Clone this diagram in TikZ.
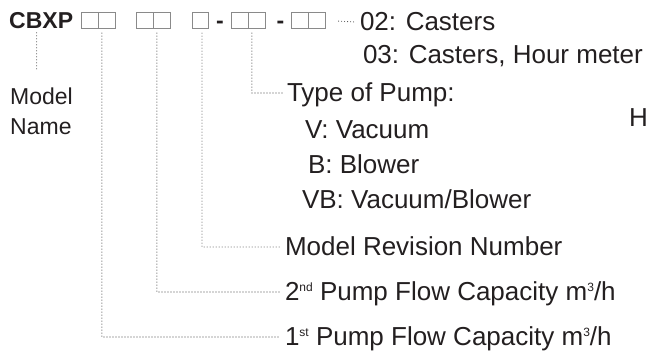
\documentclass[tikz,border=0pt]{standalone}
\usepackage{fontspec}
\setmainfont{Liberation Sans}
\definecolor{ink}{HTML}{231F20}
\definecolor{boxgray}{HTML}{8A8A8A}
\definecolor{dotgray}{HTML}{4A4A4A}
\newcommand{\upsc}[1]{\raisebox{9pt}{\fontsize{12}{12}\selectfont #1}}
\begin{document}
\begin{tikzpicture}[x=1pt, y=-1pt,
    every node/.style={text=ink},
    cell/.style={draw=boxgray, line width=0.8pt, minimum size=16.5pt, inner sep=0pt},
    hyph/.style={font=\bfseries\fontsize{23}{27}\selectfont, inner sep=0pt, anchor=base},
    lbl/.style={font=\fontsize{26}{30}\selectfont, inner sep=0pt, outer xsep=5pt, text height=18pt, text depth=0pt, anchor=west},
    leader/.style={dotgray, line width=1.1pt, line cap=round, dash pattern=on 0pt off 3pt}]
    \useasboundingbox (0,0) rectangle (649,358);

    % code string
    \node[font=\bfseries\fontsize{23}{27}\selectfont, inner sep=0pt, anchor=west] (cbxp) at (9,20.5) {CBXP};
    \node[cell] (p1a) at (90,20.5) {};
    \node[cell] (p1b) at (107,20.5) {};
    \node[cell] (p2a) at (145,20.5) {};
    \node[cell] (p2b) at (162,20.5) {};
    \node[cell] (p3) at (200.5,20.5) {};
    \node[hyph] (d1) at (220,29) {-};
    \node[cell] (p4a) at (240,20.5) {};
    \node[cell] (p4b) at (257,20.5) {};
    \node[hyph] (d2) at (280.5,29) {-};
    \node[cell] (p5a) at (300,20.5) {};
    \node[cell] (p5b) at (317,20.5) {};

    % labels
    \node[font=\fontsize{23}{30}\selectfont, align=left, inner sep=0pt, anchor=north west] (mname) at (10,88) {Model\\Name};
    \node[lbl] (c02) at (355,22) {02: Casters};
    \node[lbl] (c03) at (358,55) {03: Casters, Hour meter};
    \node[lbl] (pump) at (282,93) {Type of Pump:};
    \node[lbl] (vac) at (300,130) {V: Vacuum};
    \node[lbl] (blo) at (303,165) {B: Blower};
    \node[lbl] (vb) at (297,200) {VB: Vacuum/Blower};
    \node[lbl] (rev) at (280,247) {Model Revision Number};
    \node[lbl] (sec) at (280,292) {2\upsc{nd} Pump Flow Capacity m\upsc{3}/h};
    \node[lbl] (fir) at (280,337) {1\upsc{st} Pump Flow Capacity m\upsc{3}/h};
    \node[lbl] (hmark) at (624,118) {H};

    % leaders
    \draw[leader, shorten <=4pt, shorten >=18pt] ([xshift=-4.5pt]cbxp.south) -- ([xshift=-4.5pt]cbxp.south |- mname.north);
    \draw[leader, shorten <=4pt] ([xshift=3.5pt]p1b.south west) |- (fir.west);
    \draw[leader, shorten <=4pt] ([xshift=3.5pt]p2b.south west) |- (sec.west);
    \draw[leader, shorten <=4pt] ([xshift=1.5pt]p3.south) |- (rev.west);
    \draw[leader, shorten <=4pt] ([xshift=3.5pt]p4b.south west) |- (pump.west);
    \draw[leader, shorten <=13pt] (p5b.east) -- (c02.west);
\end{tikzpicture}
\end{document}
